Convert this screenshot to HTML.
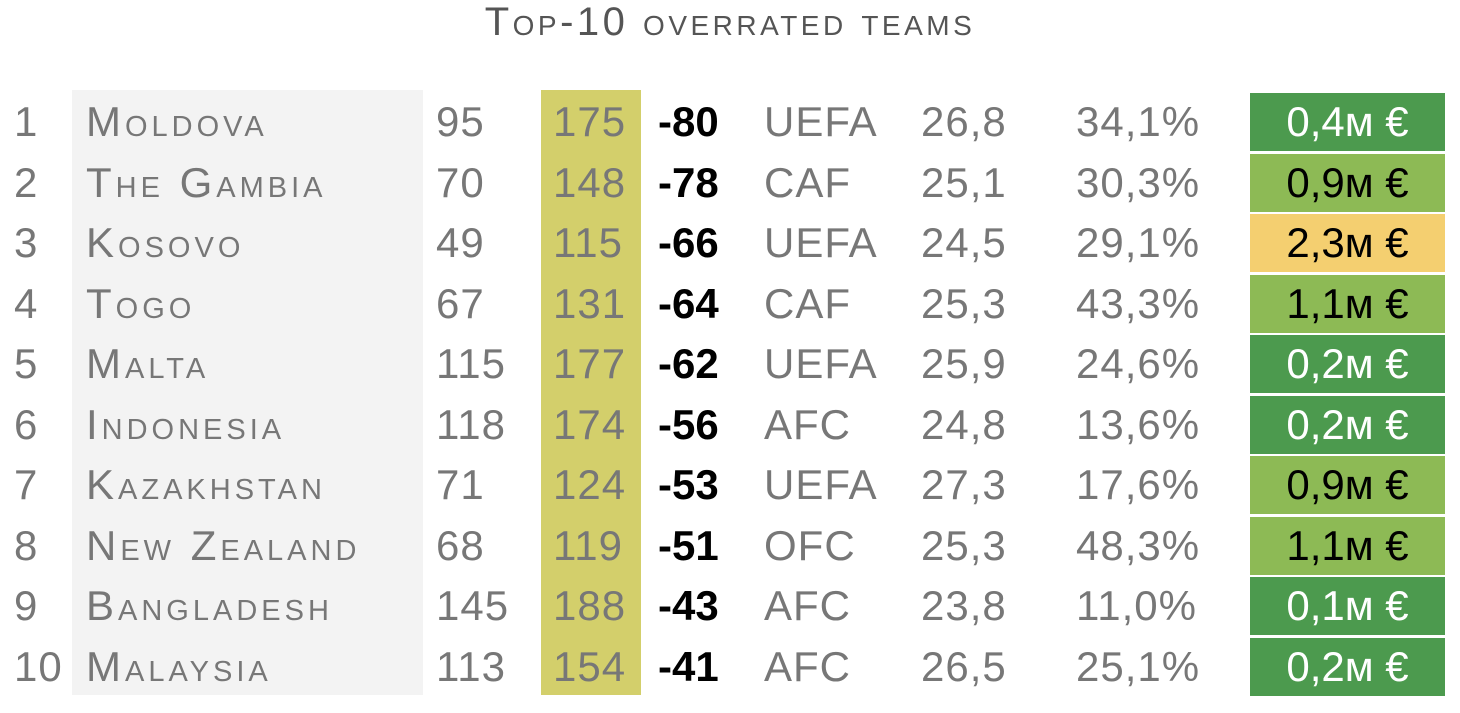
<!DOCTYPE html>
<html><head><meta charset="utf-8"><style>
body{margin:0;width:1460px;height:713px;background:#fff;font-family:"Liberation Sans",sans-serif;position:relative;overflow:hidden}
.abs{position:absolute}
#title{left:0;width:1460px;top:27px;text-align:center;font-size:40px;color:#555;font-variant:small-caps;letter-spacing:3.5px}
.c{position:absolute;font-size:42px;color:#777;line-height:60px;white-space:nowrap;letter-spacing:1px}
.nm{font-variant:small-caps;letter-spacing:4px}
.df{color:#000;font-weight:bold;letter-spacing:0}
.val{position:absolute;left:1250px;width:195px;height:58px;text-align:center;font-size:42px;line-height:58px}
</style></head><body>
<div id="title">Top-10 overrated teams</div>
<div class="abs" style="left:72px;top:90px;width:351px;height:605px;background:#f3f3f3"></div>
<div class="abs" style="left:541px;top:90px;width:100px;height:605px;background:#d3cf6b"></div>
<div id="rows"></div>
<script>
const teams=["Moldova","The Gambia","Kosovo","Togo","Malta","Indonesia","Kazakhstan","New Zealand","Bangladesh","Malaysia"];
const eloRank=[95,70,49,67,115,118,71,68,145,113];
const fifaRank=[175,148,115,131,177,174,124,119,188,154];
const diffs=[-80,-78,-66,-64,-62,-56,-53,-51,-43,-41];
const confeds=["UEFA","CAF","UEFA","CAF","UEFA","AFC","UEFA","OFC","AFC","AFC"];
const ages=["26,8","25,1","24,5","25,3","25,9","24,8","27,3","25,3","23,8","26,5"];
const pcts=["34,1%","30,3%","29,1%","43,3%","24,6%","13,6%","17,6%","48,3%","11,0%","25,1%"];
const values=[0.4,0.9,2.3,1.1,0.2,0.2,0.9,1.1,0.1,0.2];
const colorClass=["dark","light","orange","light","dark","dark","light","light","dark","dark"];
const fills={dark:"#4c9a4e",light:"#8dba55",orange:"#f4cf70"};
const rows=document.getElementById('rows');
const top0=92,pitch=60.5;
function cell(txt,x,y,cls,name){
  const d=document.createElement('div');
  d.className='c '+(cls||'');
  d.style.left=x+'px';d.style.top=y+'px';d.textContent=txt;
  
  
  rows.appendChild(d);
}
teams.forEach((t,i)=>{
  const y=top0+i*pitch;
  cell(String(i+1),14,y,'','rank-number');
  cell(t,86,y,'nm','team-name');
  cell(String(eloRank[i]),436,y,'','elo-rank');
  cell(String(fifaRank[i]),553,y,'','fifa-rank');
  cell(String(diffs[i]),658,y,'df','rank-difference');
  cell(confeds[i],764,y,'','confederation');
  cell(ages[i],921,y,'','average-age');
  cell(pcts[i],1076,y,'','percentage');
  const v=document.createElement('div');
  v.className='val';
  v.style.top=(y+1)+'px';
  v.style.background=fills[colorClass[i]];
  v.style.color=colorClass[i]==='dark'?'#fff':'#000';
  v.textContent=values[i].toFixed(1).replace('.',',')+'м €';
  
  
  rows.appendChild(v);
});
</script>
</body></html>
